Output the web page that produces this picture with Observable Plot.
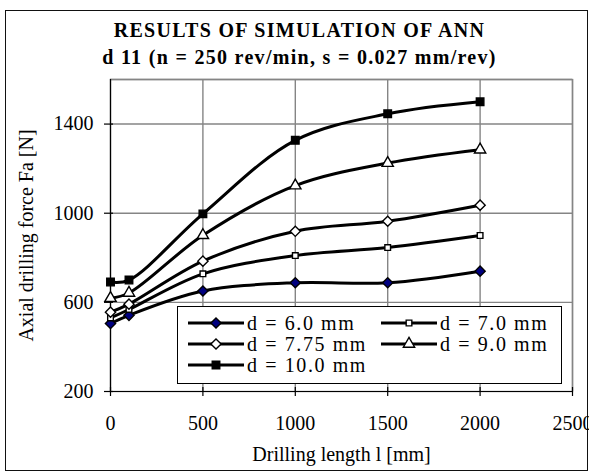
<!DOCTYPE html>
<html>
<head>
<meta charset="utf-8">
<script src="https://cdn.jsdelivr.net/npm/d3@7"></script>
<script src="https://cdn.jsdelivr.net/npm/@observablehq/plot@0.6"></script>
<style>
  html, body { margin: 0; padding: 0; background: #fff; }
  #wrap { position: relative; width: 589px; height: 473px; font-family: "Liberation Serif", "Times New Roman", serif; overflow: hidden; }
  #border { position: absolute; left: 5px; top: 10px; border: 1.5px solid #111; box-sizing: border-box; width: 583px; height: 461px; }
  .title { position: absolute; left: 5px; width: 583px; padding-left: 6px; box-sizing: border-box; text-align: center; font-weight: bold; font-size: 20px; line-height: 20px; letter-spacing: 1.3px; white-space: nowrap; }
  #plotbox { position: absolute; left: 0; top: 60px; }
  #legend { position: absolute; left: 177px; top: 306px; width: 385px; height: 78px; border: 1.2px solid #000; background: #fff; box-sizing: border-box; }
  .li { position: absolute; height: 20px; display: flex; align-items: center; white-space: nowrap; font-size: 20px; letter-spacing: 1.6px; }
  .li svg { display: block; margin-right: 3px; }
</style>
</head>
<body>
<div id="wrap">
  <div id="border"></div>
  <div class="title" id="t1" style="top:20px"></div>
  <div class="title" id="t2" style="top:47px"></div>
  <div id="plotbox"></div>
  <div id="legend"></div>
</div>
<script>
// ---- data ----
const titleLine1 = "RESULTS OF SIMULATION OF ANN";
const titleLine2 = "d 11 (n = 250 rev/min, s = 0.027 mm/rev)";
const xLabel = "Drilling length l [mm]";
const yLabel = "Axial drilling force Fa [N]";

const lengths = [0, 100, 500, 1000, 1500, 2000];
const d6 = [505, 542, 651, 688, 688, 740];
const d7 = [530, 568, 728, 810, 846, 900];
const d775 = [556, 592, 785, 919, 964, 1036];
const d9 = [619, 642, 901, 1124, 1225, 1285];
const d10 = [691, 700, 997, 1327, 1446, 1500];

const seriesNames = ["d = 6.0 mm", "d = 7.0 mm", "d = 7.75 mm", "d = 9.0 mm", "d = 10.0 mm"];
const seriesValues = [d6, d7, d775, d9, d10];

const xTicks = [0, 500, 1000, 1500, 2000, 2500];
const yTicks = [200, 600, 1000, 1400];
const xGrid = [500, 1000, 1500, 2000, 2500];
const yGrid = [600, 1000, 1400, 1600];

// marker styles per series
const markers = [
  {symbol: "diamond2", fill: "#000080", r: 4.6},
  {symbol: "square2", fill: "#fff", r: 3.6},
  {symbol: "diamond2", fill: "#fff", r: 4.6},
  {symbol: "triangle2", fill: "#fff", r: 5.4},
  {symbol: "square2", fill: "#000", r: 4.8}
];

document.getElementById("t1").textContent = titleLine1;
document.getElementById("t2").textContent = titleLine2;

const rows = [];
seriesValues.forEach((vals, s) => vals.forEach((v, i) => rows.push({series: s, x: lengths[i], y: v})));

const fmt = d => String(d);

const marks = [
  Plot.gridX(xGrid, {stroke: "#858585", strokeOpacity: 1, strokeWidth: 1.4}),
  Plot.gridY(yGrid, {stroke: "#858585", strokeOpacity: 1, strokeWidth: 1.4}),
  Plot.frame({stroke: "#858585", strokeWidth: 1.4}),
  Plot.ruleX([0], {stroke: "#000", strokeWidth: 1.2}),
  Plot.ruleY([200], {stroke: "#000", strokeWidth: 1.2}),
  Plot.axisY(yTicks, {tickSize: 9, dx: 3, text: null, label: null, stroke: "#000", strokeWidth: 1.2}),
  Plot.axisY(yTicks, {tickSize: 0, tickPadding: 17, fontSize: 20, tickFormat: fmt, label: yLabel, labelAnchor: "center", labelOffset: 92, labelArrow: "none"}),
  Plot.axisX(xTicks, {tickSize: 9, dy: -4, text: null, label: null, stroke: "#000", strokeWidth: 1.2}),
  Plot.axisX(xTicks, {tickSize: 0, tickPadding: 24, fontSize: 20, tickFormat: fmt, label: xLabel, labelAnchor: "center", labelOffset: 69, labelArrow: "none"})
];

seriesValues.forEach((vals, s) => {
  const data = rows.filter(d => d.series === s);
  marks.push(Plot.line(data, {x: "x", y: "y", stroke: "#000", strokeWidth: 3, curve: "catmull-rom"}));
  marks.push(Plot.dot(data, {x: "x", y: "y", symbol: markers[s].symbol, r: markers[s].r, fill: markers[s].fill, stroke: "#000", strokeWidth: 1.4}));
});

const chart = Plot.plot({
  width: 589,
  height: 413,
  marginTop: 19,
  marginLeft: 110,
  marginRight: 17,
  marginBottom: 82,
  style: {fontFamily: "Liberation Serif, Times New Roman, serif", fontSize: "19px", color: "#000", background: "transparent", overflow: "visible"},
  x: {domain: [0, 2500]},
  y: {domain: [200, 1600]},
  marks
});
document.getElementById("plotbox").appendChild(chart);

// legend
const legend = document.getElementById("legend");
const legendPos = [[10, 6], [203, 6], [10, 27], [203, 27], [10, 48]];
const symbolTypes = {diamond2: d3.symbolDiamond2, square2: d3.symbolSquare2, triangle2: d3.symbolTriangle2};
seriesNames.forEach((name, s) => {
  const m = markers[s];
  const path = d3.symbol(symbolTypes[m.symbol], Math.PI * m.r * m.r)();
  const div = document.createElement("div");
  div.className = "li";
  div.style.left = legendPos[s][0] + "px";
  div.style.top = legendPos[s][1] + "px";
  div.innerHTML = `<svg width="56" height="20"><line x1="0" x2="56" y1="10" y2="10" stroke="#000" stroke-width="3"/><path transform="translate(28,10)" d="${path}" fill="${m.fill}" stroke="#000" stroke-width="1.4"/></svg><span>${name}</span>`;
  legend.appendChild(div);
});
</script>
</body>
</html>
